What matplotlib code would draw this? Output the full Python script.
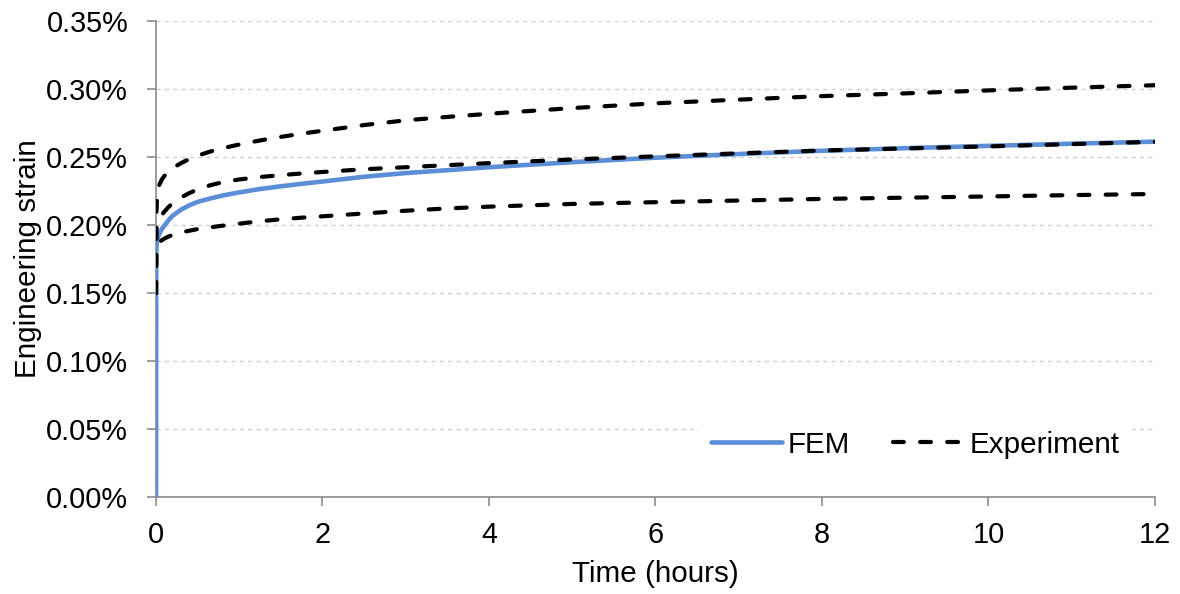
import matplotlib
matplotlib.use("Agg")
import matplotlib.pyplot as plt
from matplotlib.ticker import FuncFormatter, MultipleLocator

plt.rcParams['font.family'] = ['Liberation Sans', 'DejaVu Sans']

# time grid (hours)
time_h = [0, 0.003, 0.01, 0.02, 0.04, 0.07, 0.1, 0.15, 0.2, 0.3, 0.4, 0.5, 0.65,
          0.8, 1.0, 1.25, 1.5, 1.75, 2, 2.5, 3, 3.5, 4, 5, 6, 7, 8, 9, 10, 11, 12]

# strain values in percent
fem = [0.0, 0.182, 0.187, 0.190, 0.1935, 0.197, 0.1995, 0.2035, 0.2068, 0.2113,
       0.2145, 0.217, 0.2195, 0.2217, 0.224, 0.2265, 0.2285, 0.2303, 0.232,
       0.2355, 0.2382, 0.2403, 0.2425, 0.2462, 0.2495, 0.2522, 0.2546, 0.2565,
       0.2582, 0.2598, 0.2613]
exp_upper = [0.150, 0.205, 0.217, 0.224, 0.2295, 0.2335, 0.236, 0.2392, 0.2418,
             0.2455, 0.2485, 0.251, 0.254, 0.2565, 0.2592, 0.2622, 0.2648, 0.2672,
             0.2693, 0.2735, 0.277, 0.2795, 0.2818, 0.286, 0.2895, 0.2922, 0.2948,
             0.2968, 0.299, 0.301, 0.3028]
exp_middle = [0.150, 0.196, 0.199, 0.2015, 0.2045, 0.2075, 0.2098, 0.2132, 0.216,
              0.2202, 0.2235, 0.2262, 0.2292, 0.2315, 0.2335, 0.2353, 0.2367,
              0.2379, 0.239, 0.241, 0.2425, 0.244, 0.2455, 0.2482, 0.2505, 0.2527,
              0.2548, 0.2563, 0.2578, 0.2595, 0.2612]
exp_lower = [0.150, 0.184, 0.1855, 0.1865, 0.1875, 0.1888, 0.19, 0.1915, 0.1928,
             0.1945, 0.1958, 0.197, 0.1983, 0.1995, 0.201, 0.2028, 0.2042, 0.2054,
             0.2064, 0.2085, 0.2105, 0.2122, 0.2135, 0.2155, 0.2168, 0.218, 0.2192,
             0.2201, 0.221, 0.222, 0.2228]

fig = plt.figure(figsize=(11.8, 5.94), dpi=100)
ax = fig.add_axes([0.1322, 0.1633, 0.8466, 0.8013])

fem_color = '#5B8ED6'
ax.plot(time_h, fem, color=fem_color, lw=3.3, solid_capstyle='round',
        solid_joinstyle='round', label='FEM', zorder=3)
dash = (2.6, 3.9)
for i, s in enumerate([exp_upper, exp_middle, exp_lower]):
    ax.plot(time_h, s, color='black', lw=3.0, linestyle=(0, dash),
            dash_capstyle='round', dash_joinstyle='round',
            label='Experiment' if i == 0 else None, zorder=4)

ax.set_xlim(0, 12)
ax.set_ylim(0, 0.35)
ax.xaxis.set_major_locator(MultipleLocator(2))
ax.yaxis.set_major_locator(MultipleLocator(0.05))
ax.yaxis.set_major_formatter(FuncFormatter(lambda v, p: f"{v:.2f}%"))

ax.grid(axis='y', color='#D0D0D0', linestyle=(0, (3, 3)), linewidth=1.0)
ax.set_axisbelow(True)
for sp in ['top', 'right']:
    ax.spines[sp].set_visible(False)
for sp in ['left', 'bottom']:
    ax.spines[sp].set_color('#8C8C8C')
    ax.spines[sp].set_linewidth(1.2)
ax.tick_params(axis='both', which='major', direction='out', length=6.5,
               width=1.2, color='#8C8C8C', labelsize=20.8, labelcolor='black')
ax.tick_params(axis='y', pad=13.5)
ax.tick_params(axis='x', pad=11)

ax.set_xlabel('Time (hours)', fontsize=21.3, labelpad=8)
ax.set_ylabel('Engineering strain', fontsize=21.3, labelpad=3)

leg = ax.legend(loc='center', bbox_to_anchor=(0.76, 0.11), ncol=2, frameon=True,
                fontsize=21.3, handlelength=2.4, handletextpad=0.2,
                columnspacing=1.45, borderpad=0.4, fancybox=False)
leg.get_frame().set_facecolor('white')
leg.get_frame().set_edgecolor('none')
leg.get_frame().set_alpha(1.0)

fig.savefig('out.png', dpi=100)
